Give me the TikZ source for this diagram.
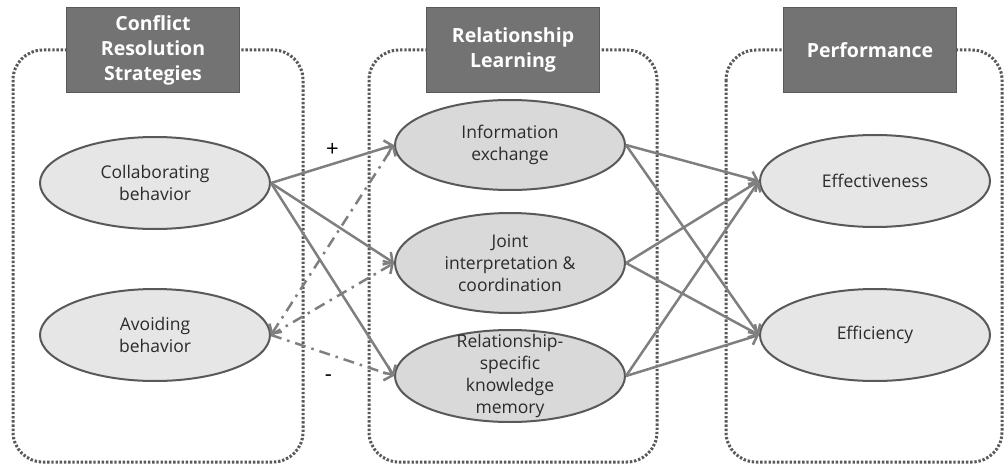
\documentclass[tikz,border=0pt]{standalone}
\usepackage{fontspec}
\setmainfont{Open Sans}
\usetikzlibrary{shapes.geometric,arrows.meta}
\definecolor{TitleGray}{HTML}{737373}
\definecolor{EdgeGray}{HTML}{7F7F7F}
\definecolor{LineGray}{HTML}{595959}
\definecolor{LightFill}{HTML}{E6E6E6}
\definecolor{MidFill}{HTML}{D9D9D9}
\definecolor{TextGray}{HTML}{2B2B2B}

\begin{document}
\begin{tikzpicture}[x=1pt, y=-1pt, every node/.style={align=center},
    header/.style={draw=LineGray, line width=1.5pt, fill=TitleGray, text=white, font=\fontsize{19.5}{25}\selectfont\bfseries, minimum width=173pt, minimum height=85pt, inner sep=0pt},
    group/.style={draw=LineGray, line width=3pt, dash pattern=on 2.4pt off 1.8pt, rounded corners=30pt},
    construct/.style={ellipse, draw=LineGray, line width=2pt, fill=LightFill, text=TextGray, font=\fontsize{17.5}{22}\selectfont, minimum width=230pt, minimum height=92pt, inner sep=0pt},
    link/.style={draw=EdgeGray, line width=2.5pt, -{Straight Barb[length=7pt,width=15pt]}},
    weak/.style={link, dash pattern=on 11pt off 6pt on 2.5pt off 6pt},
    sign/.style={font=\fontsize{22}{22}\selectfont, text=black}]
  \useasboundingbox (0,0) rectangle (1006,468);
  % Dotted groups
  \draw[group] (13,50) rectangle (303,462);
  \draw[group] (369,50) rectangle (657,462);
  \draw[group] (726,50) rectangle (1002,462);
  % Group headers
  \node[header] (crs) at (153,50) {Conflict\\Resolution\\Strategies};
  \node[header] (learn) at (513,50) {Relationship\\Learning};
  \node[header] (perf) at (870,50) {Performance};
  % Constructs
  \node[construct] (collab) at (155,183) {Collaborating\\behavior};
  \node[construct] (avoid) at (155,335) {Avoiding\\behavior};
  \node[construct, fill=MidFill, minimum height=90pt] (info) at (510,145) {Information\\exchange};
  \node[construct, fill=MidFill, minimum height=100pt, inner ysep=-2pt] (joint) at (510,263) {Joint\\interpretation \&\\coordination};
  \node[construct, fill=MidFill, inner ysep=-14pt] (memory) at (510,376) {Relationship-\\specific\\knowledge\\memory};
  \node[construct] (effect) at (875,181) {Effectiveness};
  \node[construct] (effic) at (875,335) {Efficiency};
  % Paths
  \draw[link] (collab.east) -- node[sign, above=3pt] (plus) {+} (info.west);
  \draw[link] (collab.east) -- (joint.west);
  \draw[link] (collab.east) -- (memory.west);
  \draw[weak, {Straight Barb[length=7pt,width=15pt]}-{Straight Barb[length=7pt,width=15pt]}] (avoid.east) -- (info.west);
  \draw[weak] (avoid.east) -- (joint.west);
  \draw[weak] (avoid.east) -- node[sign, below=15pt, xshift=-4pt] (minus) {-} (memory.west);
  \foreach \src in {info,joint,memory}
    \foreach \dst in {effect,effic}
      \draw[link] (\src.east) -- (\dst.west);
\end{tikzpicture}
\end{document}
